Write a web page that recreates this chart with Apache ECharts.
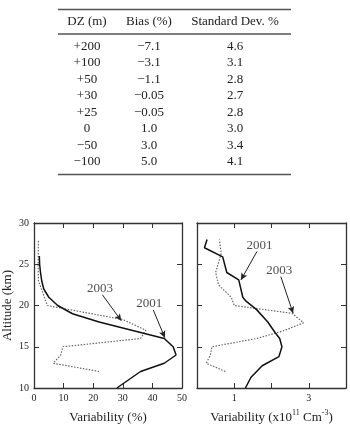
<!DOCTYPE html>
<html>
<head>
<meta charset="utf-8">
<script src="https://cdn.jsdelivr.net/npm/echarts@6/dist/echarts.min.js"></script>
<style>
html,body{margin:0;padding:0;background:#fff;}
#chart{width:350px;height:425px;}
</style>
</head>
<body>
<div id="chart"></div>
<script>
// ---- Table data ----
const tableHeaders = ['DZ (m)', 'Bias (%)', 'Standard Dev. %'];
const dzValues = ['+200', '+100', '+50', '+30', '+25', '0', '\u221250', '\u2212100'];
const biasValues = ['\u22127.1', '\u22123.1', '\u22121.1', '\u22120.05', '\u22120.05', '1.0', '3.0', '5.0'];
const stdDevValues = ['4.6', '3.1', '2.8', '2.7', '2.8', '3.0', '3.4', '4.1'];

// ---- Left panel: Variability (%) vs altitude (km) ----
const leftAlt2001 = [10, 11, 12, 13, 14, 15, 16, 17, 18, 19, 20, 21, 22, 23, 24, 25, 26];
const leftVar2001 = [28, 32, 36, 44, 48, 47, 44, 33, 22, 13, 8, 5, 3.3, 2.6, 2.2, 1.9, 1.8];
const leftAlt2003 = [12, 13, 14, 15, 16, 17, 18.3, 20, 21.5, 23, 25, 28];
const leftVar2003 = [22, 6.5, 9, 9.8, 36, 37.8, 30, 4.5, 3, 1.5, 1.4, 1.5];

// ---- Right panel: Variability (x10^11 cm^-3) vs altitude (km) ----
const rightAlt2001 = [10, 11.3, 12.7, 13.8, 15, 16, 16.7, 18, 19.5, 20.6, 21, 23.1, 24, 25.9, 27, 28];
const rightVar2001 = [1.3, 1.45, 1.75, 2.2, 2.28, 2.22, 2.1, 1.9, 1.6, 1.3, 1.23, 1.12, 0.8, 0.69, 0.2, 0.27];
const rightAlt2003 = [12, 13, 14, 15, 16, 16.9, 17.9, 19.05, 20, 21, 22.5, 24, 26.3, 28];
const rightVar2003 = [0.76, 0.25, 0.36, 0.40, 1.6, 2.3, 2.86, 2.55, 1.0, 0.92, 0.58, 0.5, 0.65, 0.6];

// ---- Axis tick labels ----
const altitudeTicks = [10, 15, 20, 25, 30];
const leftXTicks = [0, 10, 20, 30, 40, 50];
const rightXLabelValues = [1, 3];

// ---- Annotations (data units): label position, arrow start, arrow end ----
const leftNotes = [
  { text: '2003', at: [22.3, 22.0], from: [23.1, 21.3], to: [29.5, 18.15] },
  { text: '2001', at: [38.9, 20.2], from: [40.3, 19.45], to: [44.2, 16.1] }
];
const rightNotes = [
  { text: '2001', at: [1.68, 27.25], from: [1.61, 26.55], to: [1.18, 23.1] },
  { text: '2003', at: [2.21, 24.25], from: [2.25, 23.5], to: [2.58, 19.05] }
];

const FONT = '"Liberation Serif", "Times New Roman", serif';
const INK = '#222';
const pairs = (xs, ys) => xs.map((x, i) => [x, ys[i]]);

function axisBase(extra) {
  return Object.assign({
    type: 'value',
    axisLine: { show: true, onZero: false, lineStyle: { color: '#333', width: 1.3 } },
    axisTick: { show: true, inside: true, length: 5, lineStyle: { color: '#333', width: 1 } },
    splitLine: { show: false },
    axisLabel: { show: false }
  }, extra);
}

const labelStyle = { show: true, fontFamily: FONT, fontSize: 10, color: INK };

const xAxes = [
  axisBase({ gridIndex: 0, position: 'bottom', min: 0, max: 50, interval: 10,
    axisLabel: Object.assign({}, labelStyle, { margin: 5, formatter: v => leftXTicks.includes(v) ? String(v) : '' }),
    name: 'Variability (%)', nameLocation: 'middle', nameGap: 23,
    nameTextStyle: { fontFamily: FONT, fontSize: 13, color: INK } }),
  axisBase({ gridIndex: 0, position: 'top', min: 0, max: 50, interval: 10 }),
  axisBase({ gridIndex: 1, position: 'bottom', min: 0, max: 4, interval: 1,
    axisLabel: Object.assign({}, labelStyle, { margin: 5, formatter: v => rightXLabelValues.includes(v) ? String(v) : '' }),
    name: 'Variability (x10{sup|11} Cm{sup|-3})', nameLocation: 'middle', nameGap: 21,
    nameTextStyle: { fontFamily: FONT, fontSize: 13, color: INK,
      rich: { sup: { fontFamily: FONT, fontSize: 8, color: INK, padding: [0, 0, 9, 0] } } } }),
  axisBase({ gridIndex: 1, position: 'top', min: 0, max: 4, interval: 1 })
];

const yAxes = [
  axisBase({ gridIndex: 0, position: 'left', min: 10, max: 30, interval: 5,
    axisLabel: Object.assign({}, labelStyle, { margin: 5, formatter: v => altitudeTicks.includes(v) ? String(v) : '' }),
    name: 'Altitude (km)', nameLocation: 'middle', nameGap: 20, nameRotate: 90,
    nameTextStyle: { fontFamily: FONT, fontSize: 13, color: INK } }),
  axisBase({ gridIndex: 0, position: 'right', min: 10, max: 30, interval: 5 }),
  axisBase({ gridIndex: 1, position: 'left', min: 10, max: 30, interval: 5 }),
  axisBase({ gridIndex: 1, position: 'right', min: 10, max: 30, interval: 5 })
];

function solid(xi, yi, data) {
  return { type: 'line', xAxisIndex: xi, yAxisIndex: yi, data: data, showSymbol: false, silent: true,
    lineStyle: { color: '#111', width: 1.5, type: 'solid' }, animation: false };
}
function dotted(xi, yi, data) {
  return { type: 'line', xAxisIndex: xi, yAxisIndex: yi, data: data, showSymbol: false, silent: true,
    lineStyle: { color: '#666', width: 1.2, type: [1.5, 1.5] }, animation: false };
}
function notes(xi, yi, list) {
  return {
    type: 'scatter', xAxisIndex: xi, yAxisIndex: yi, silent: true, animation: false,
    symbolSize: 1, itemStyle: { color: 'rgba(0,0,0,0)' },
    data: list.map(n => ({ value: n.at, name: n.text })),
    label: { show: true, position: 'inside', formatter: '{b}', fontFamily: FONT, fontSize: 13, color: INK },
    markLine: {
      silent: true, animation: false, symbol: ['none', 'arrow'], symbolSize: [5, 7],
      label: { show: false },
      lineStyle: { color: '#222', width: 1, type: 'solid' },
      data: list.map(n => [{ coord: n.from }, { coord: n.to }])
    }
  };
}

// Table as graphic text, built from the arrays
const colX = [87, 149, 235];
const headerY = 22;
const rowY0 = 46.5, rowStep = 16.45;
const graphics = [];
[9.5, 34, 174.5].forEach(y => graphics.push({
  type: 'line', shape: { x1: 58, y1: y, x2: 291, y2: y }, style: { stroke: '#555', lineWidth: 1.4 }, silent: true
}));
tableHeaders.forEach((h, i) => graphics.push({
  type: 'text', x: colX[i], y: headerY, silent: true,
  style: { text: h, fontFamily: FONT, fontSize: 13, fill: INK, align: 'center', verticalAlign: 'middle' }
}));
[dzValues, biasValues, stdDevValues].forEach((col, ci) => col.forEach((v, ri) => graphics.push({
  type: 'text', x: colX[ci], y: rowY0 + ri * rowStep, silent: true,
  style: { text: v, fontFamily: FONT, fontSize: 13, fill: INK, align: 'center', verticalAlign: 'middle' }
})));

const chart = echarts.init(document.getElementById('chart'), null, { renderer: 'canvas' });
chart.setOption({
  backgroundColor: '#fff',
  animation: false,
  grid: [
    { left: 32, top: 223, width: 150, height: 165 },
    { left: 197, top: 223, width: 149, height: 165 }
  ],
  xAxis: xAxes,
  yAxis: yAxes,
  graphic: graphics,
  series: [
    dotted(0, 0, pairs(leftVar2003, leftAlt2003)),
    solid(0, 0, pairs(leftVar2001, leftAlt2001)),
    dotted(2, 2, pairs(rightVar2003, rightAlt2003)),
    solid(2, 2, pairs(rightVar2001, rightAlt2001)),
    notes(0, 0, leftNotes),
    notes(2, 2, rightNotes)
  ]
});
</script>
</body>
</html>
